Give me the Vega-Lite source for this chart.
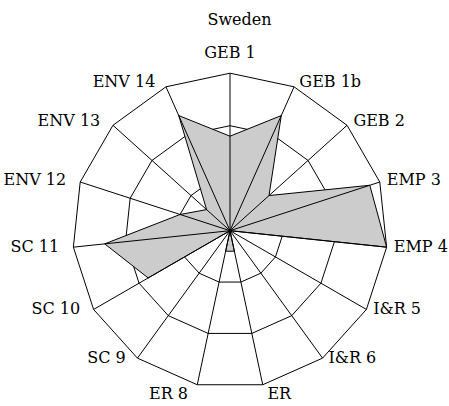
{
  "$schema": "https://vega.github.io/schema/vega-lite/v6.json",
  "width": 449,
  "height": 376,
  "autosize": {"type": "none"},
  "padding": {"left": 0, "right": 0, "top": 30, "bottom": 0},
  "background": "white",
  "title": {"text": "Sweden", "font": "DejaVu Serif", "fontSize": 16, "fontWeight": "normal", "color": "black", "anchor": "middle", "dx": 15, "offset": 2},
  "config": {"view": {"stroke": null}, "text": {"font": "DejaVu Serif"}},
  "datasets": {
    "scores": [
      {"axis": "GEB 1", "i": 0, "value": 9},
      {"axis": "GEB 1b", "i": 1, "value": 12},
      {"axis": "GEB 2", "i": 2, "value": 5},
      {"axis": "EMP 3", "i": 3, "value": 14},
      {"axis": "EMP 4", "i": 4, "value": 15},
      {"axis": "I&R 5", "i": 5, "value": 0},
      {"axis": "I&R 6", "i": 6, "value": 0},
      {"axis": "ER", "i": 7, "value": 2},
      {"axis": "ER 8", "i": 8, "value": 2},
      {"axis": "SC 9", "i": 9, "value": 0},
      {"axis": "SC 10", "i": 10, "value": 9},
      {"axis": "SC 11", "i": 11, "value": 12},
      {"axis": "ENV 12", "i": 12, "value": 5},
      {"axis": "ENV 13", "i": 13, "value": 3},
      {"axis": "ENV 14", "i": 14, "value": 12}
    ]
  },
  "data": {"name": "scores"},
  "layer": [
    {
      "transform": [
        {"calculate": "5*sin(2*PI*datum.i/15)", "as": "x"},
        {"calculate": "5*cos(2*PI*datum.i/15)", "as": "y"}
      ],
      "mark": {"type": "line", "interpolate": "linear-closed", "color": "black", "strokeWidth": 1},
      "encoding": {
        "x": {"field": "x", "type": "quantitative", "scale": {"domain": [-21.905, 20.857], "nice": false, "zero": false}, "axis": null},
        "y": {"field": "y", "type": "quantitative", "scale": {"domain": [-16.695, 19.114], "nice": false, "zero": false}, "axis": null},
        "order": {"field": "i", "type": "quantitative"}
      }
    },
    {
      "transform": [
        {"calculate": "10*sin(2*PI*datum.i/15)", "as": "x"},
        {"calculate": "10*cos(2*PI*datum.i/15)", "as": "y"}
      ],
      "mark": {"type": "line", "interpolate": "linear-closed", "color": "black", "strokeWidth": 1},
      "encoding": {
        "x": {"field": "x", "type": "quantitative"},
        "y": {"field": "y", "type": "quantitative"},
        "order": {"field": "i", "type": "quantitative"}
      }
    },
    {
      "transform": [
        {"calculate": "15*sin(2*PI*datum.i/15)", "as": "x"},
        {"calculate": "15*cos(2*PI*datum.i/15)", "as": "y"}
      ],
      "mark": {"type": "line", "interpolate": "linear-closed", "color": "black", "strokeWidth": 1},
      "encoding": {
        "x": {"field": "x", "type": "quantitative"},
        "y": {"field": "y", "type": "quantitative"},
        "order": {"field": "i", "type": "quantitative"}
      }
    },
    {
      "transform": [
        {"calculate": "datum.value*sin(2*PI*datum.i/15)", "as": "x"},
        {"calculate": "datum.value*cos(2*PI*datum.i/15)", "as": "y"}
      ],
      "mark": {"type": "line", "interpolate": "linear-closed", "fill": "#cccccc", "stroke": "black", "strokeWidth": 1},
      "encoding": {
        "x": {"field": "x", "type": "quantitative"},
        "y": {"field": "y", "type": "quantitative"},
        "order": {"field": "i", "type": "quantitative"}
      }
    },
    {
      "transform": [
        {"calculate": "15*sin(2*PI*datum.i/15)", "as": "x"},
        {"calculate": "15*cos(2*PI*datum.i/15)", "as": "y"},
        {"calculate": "0", "as": "cx"},
        {"calculate": "0", "as": "cy"}
      ],
      "mark": {"type": "rule", "color": "black", "strokeWidth": 1},
      "encoding": {
        "x": {"field": "cx", "type": "quantitative"},
        "y": {"field": "cy", "type": "quantitative"},
        "x2": {"field": "x"},
        "y2": {"field": "y"}
      }
    },
    {
      "transform": [
        {"filter": "datum.i >= 1 && datum.i <= 7"},
        {"calculate": "15.3*sin(2*PI*datum.i/15)", "as": "x"},
        {"calculate": "datum.i == 7 ? 15*cos(2*PI*datum.i/15) - 0.85 : (cos(2*PI*datum.i/15) > 0 ? 15.55 : 15)*cos(2*PI*datum.i/15)", "as": "y"}
      ],
      "mark": {"type": "text", "align": "left", "baseline": "middle", "dx": 4, "font": "DejaVu Serif", "fontSize": 16, "color": "black"},
      "encoding": {
        "x": {"field": "x", "type": "quantitative"},
        "y": {"field": "y", "type": "quantitative"},
        "text": {"field": "axis", "type": "nominal"}
      }
    },
    {
      "transform": [
        {"filter": "datum.i >= 8"},
        {"calculate": "15.6*sin(2*PI*datum.i/15)", "as": "x"},
        {"calculate": "datum.i == 8 ? 15*cos(2*PI*datum.i/15) - 0.85 : (cos(2*PI*datum.i/15) > 0 ? 15.55 : 15)*cos(2*PI*datum.i/15)", "as": "y"}
      ],
      "mark": {"type": "text", "align": "right", "baseline": "middle", "dx": -8, "font": "DejaVu Serif", "fontSize": 16, "color": "black"},
      "encoding": {
        "x": {"field": "x", "type": "quantitative"},
        "y": {"field": "y", "type": "quantitative"},
        "text": {"field": "axis", "type": "nominal"}
      }
    },
    {
      "transform": [
        {"filter": "datum.i == 0"},
        {"calculate": "0", "as": "x"},
        {"calculate": "15", "as": "y"}
      ],
      "mark": {"type": "text", "align": "center", "baseline": "alphabetic", "dy": -15, "font": "DejaVu Serif", "fontSize": 16, "color": "black"},
      "encoding": {
        "x": {"field": "x", "type": "quantitative"},
        "y": {"field": "y", "type": "quantitative"},
        "text": {"field": "axis", "type": "nominal"}
      }
    }
  ]
}
